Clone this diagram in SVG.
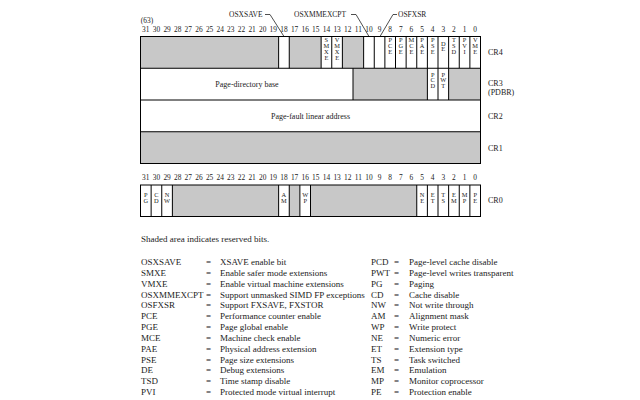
<svg xmlns="http://www.w3.org/2000/svg" width="640" height="400" viewBox="0 0 640 400">
<style>
  text { font-family: "Liberation Serif", "Times New Roman", serif; fill: #222; }
  .num { font-size: 7.4px; text-anchor: middle; }
  .cl { font-size: 6.4px; text-anchor: middle; }
  .lbl { font-size: 7.5px; }
  .reg { font-size: 8px; }
  .mid { font-size: 8px; text-anchor: middle; }
  .leg { font-size: 9px; }
  .gray { fill: #c8c8c8; stroke: none; }
  .box { fill: none; stroke: #000; stroke-width: 1; }
  .sep { stroke: #000; stroke-width: 1; }
  .lead { fill: none; stroke: #222; stroke-width: 0.8; }
</style>

<!-- top bit numbers -->
<g id="bitnums-top" class="num">
  <text x="147" y="22.5">(63)</text>
  <text x="145.8" y="31.5">31</text><text x="156.4" y="31.5">30</text><text x="167.1" y="31.5">29</text><text x="177.7" y="31.5">28</text>
  <text x="188.3" y="31.5">27</text><text x="198.9" y="31.5">26</text><text x="209.6" y="31.5">25</text><text x="220.2" y="31.5">24</text>
  <text x="230.8" y="31.5">23</text><text x="241.4" y="31.5">22</text><text x="252.1" y="31.5">21</text><text x="262.7" y="31.5">20</text>
  <text x="273.3" y="31.5">19</text><text x="283.9" y="31.5">18</text><text x="294.6" y="31.5">17</text><text x="305.2" y="31.5">16</text>
  <text x="315.8" y="31.5">15</text><text x="326.4" y="31.5">14</text><text x="337.1" y="31.5">13</text><text x="347.7" y="31.5">12</text>
  <text x="358.3" y="31.5">11</text><text x="368.9" y="31.5">10</text><text x="379.6" y="31.5">9</text><text x="390.2" y="31.5">8</text>
  <text x="400.8" y="31.5">7</text><text x="411.4" y="31.5">6</text><text x="422.1" y="31.5">5</text><text x="432.7" y="31.5">4</text>
  <text x="443.3" y="31.5">3</text><text x="453.9" y="31.5">2</text><text x="464.6" y="31.5">1</text><text x="475.2" y="31.5">0</text>
</g>

<g id="field-labels" class="lbl">
  <text x="229" y="17">OSXSAVE</text>
  <text x="294" y="17">OSXMMEXCPT</text>
  <text x="398" y="17">OSFXSR</text>
</g>

<g id="connectors">
  <polyline class="lead" points="265,14.5 270,14.5 284,36.5"/>
  <polyline class="lead" points="351,14.5 356,14.5 369,36.5"/>
  <polyline class="lead" points="397,14.5 393,14.5 380,36.5"/>
</g>

<!-- CR4 -->
<g id="cr4">
  <rect class="gray" x="140.5" y="36.5" width="138.125" height="31.75"/>
  <rect class="gray" x="289.25" y="36.5" width="31.875" height="31.75"/>
  <rect class="gray" x="342.375" y="36.5" width="21.25" height="31.75"/>
  <g class="sep">
    <line x1="278.625" y1="36.5" x2="278.625" y2="68.25"/>
    <line x1="289.25" y1="36.5" x2="289.25" y2="68.25"/>
    <line x1="321.125" y1="36.5" x2="321.125" y2="68.25"/>
    <line x1="331.75" y1="36.5" x2="331.75" y2="68.25"/>
    <line x1="342.375" y1="36.5" x2="342.375" y2="68.25"/>
    <line x1="363.625" y1="36.5" x2="363.625" y2="68.25"/>
    <line x1="374.25" y1="36.5" x2="374.25" y2="68.25"/>
    <line x1="384.875" y1="36.5" x2="384.875" y2="68.25"/>
    <line x1="395.5" y1="36.5" x2="395.5" y2="68.25"/>
    <line x1="406.125" y1="36.5" x2="406.125" y2="68.25"/>
    <line x1="416.75" y1="36.5" x2="416.75" y2="68.25"/>
    <line x1="427.375" y1="36.5" x2="427.375" y2="68.25"/>
    <line x1="438" y1="36.5" x2="438" y2="68.25"/>
    <line x1="448.625" y1="36.5" x2="448.625" y2="68.25"/>
    <line x1="459.25" y1="36.5" x2="459.25" y2="68.25"/>
    <line x1="469.875" y1="36.5" x2="469.875" y2="68.25"/>
  </g>
  <g class="cl">
    <text y="42"><tspan x="326.4">S</tspan><tspan x="326.4" dy="5.9">M</tspan><tspan x="326.4" dy="5.9">X</tspan><tspan x="326.4" dy="5.9">E</tspan></text>
    <text y="42"><tspan x="337.1">V</tspan><tspan x="337.1" dy="5.9">M</tspan><tspan x="337.1" dy="5.9">X</tspan><tspan x="337.1" dy="5.9">E</tspan></text>
    <text y="42"><tspan x="390.2">P</tspan><tspan x="390.2" dy="5.9">C</tspan><tspan x="390.2" dy="5.9">E</tspan></text>
    <text y="42"><tspan x="400.8">P</tspan><tspan x="400.8" dy="5.9">G</tspan><tspan x="400.8" dy="5.9">E</tspan></text>
    <text y="42"><tspan x="411.4">M</tspan><tspan x="411.4" dy="5.9">C</tspan><tspan x="411.4" dy="5.9">E</tspan></text>
    <text y="42"><tspan x="422.1">P</tspan><tspan x="422.1" dy="5.9">A</tspan><tspan x="422.1" dy="5.9">E</tspan></text>
    <text y="42"><tspan x="432.7">P</tspan><tspan x="432.7" dy="5.9">S</tspan><tspan x="432.7" dy="5.9">E</tspan></text>
    <text y="45.5"><tspan x="443.3">D</tspan><tspan x="443.3" dy="5.9">E</tspan></text>
    <text y="42"><tspan x="453.9">T</tspan><tspan x="453.9" dy="5.9">S</tspan><tspan x="453.9" dy="5.9">D</tspan></text>
    <text y="42"><tspan x="464.6">P</tspan><tspan x="464.6" dy="5.9">V</tspan><tspan x="464.6" dy="5.9">I</tspan></text>
    <text y="42"><tspan x="475.2">V</tspan><tspan x="475.2" dy="5.9">M</tspan><tspan x="475.2" dy="5.9">E</tspan></text>
  </g>
  <text class="reg" x="488" y="55">CR4</text>
</g>

<!-- CR3 -->
<g id="cr3">
  <rect class="gray" x="353" y="68.25" width="74.375" height="31.75"/>
  <rect class="gray" x="448.625" y="68.25" width="31.875" height="31.75"/>
  <g class="sep">
    <line x1="353" y1="68.25" x2="353" y2="100"/>
    <line x1="427.375" y1="68.25" x2="427.375" y2="100"/>
    <line x1="438" y1="68.25" x2="438" y2="100"/>
    <line x1="448.625" y1="68.25" x2="448.625" y2="100"/>
  </g>
  <text class="mid" x="247" y="87">Page-directory base</text>
  <g class="cl">
    <text y="76.5"><tspan x="432.7">P</tspan><tspan x="432.7" dy="5.9">C</tspan><tspan x="432.7" dy="5.9">D</tspan></text>
    <text y="76.5"><tspan x="443.3">P</tspan><tspan x="443.3" dy="5.9">W</tspan><tspan x="443.3" dy="5.9">T</tspan></text>
  </g>
  <text class="reg" x="488" y="86">CR3</text>
  <text class="reg" x="488" y="95">(PDBR)</text>
</g>

<!-- CR2 -->
<g id="cr2">
  <text class="mid" x="310.5" y="118.5">Page-fault linear address</text>
  <text class="reg" x="488" y="118.5">CR2</text>
</g>

<!-- CR1 -->
<g id="cr1">
  <rect class="gray" x="140.5" y="131.75" width="340" height="31.75"/>
  <text class="reg" x="488" y="150.5">CR1</text>
</g>

<!-- outlines of CR4..CR1 -->
<g id="stack-outline">
  <rect class="box" x="140.5" y="36.5" width="340" height="127"/>
  <line class="sep" x1="140.5" y1="68.25" x2="480.5" y2="68.25"/>
  <line class="sep" x1="140.5" y1="100" x2="480.5" y2="100"/>
  <line class="sep" x1="140.5" y1="131.75" x2="480.5" y2="131.75"/>
</g>

<!-- bottom bit numbers -->
<g id="bitnums-bottom" class="num">
  <text x="145.8" y="179.5">31</text><text x="156.4" y="179.5">30</text><text x="167.1" y="179.5">29</text><text x="177.7" y="179.5">28</text>
  <text x="188.3" y="179.5">27</text><text x="198.9" y="179.5">26</text><text x="209.6" y="179.5">25</text><text x="220.2" y="179.5">24</text>
  <text x="230.8" y="179.5">23</text><text x="241.4" y="179.5">22</text><text x="252.1" y="179.5">21</text><text x="262.7" y="179.5">20</text>
  <text x="273.3" y="179.5">19</text><text x="283.9" y="179.5">18</text><text x="294.6" y="179.5">17</text><text x="305.2" y="179.5">16</text>
  <text x="315.8" y="179.5">15</text><text x="326.4" y="179.5">14</text><text x="337.1" y="179.5">13</text><text x="347.7" y="179.5">12</text>
  <text x="358.3" y="179.5">11</text><text x="368.9" y="179.5">10</text><text x="379.6" y="179.5">9</text><text x="390.2" y="179.5">8</text>
  <text x="400.8" y="179.5">7</text><text x="411.4" y="179.5">6</text><text x="422.1" y="179.5">5</text><text x="432.7" y="179.5">4</text>
  <text x="443.3" y="179.5">3</text><text x="453.9" y="179.5">2</text><text x="464.6" y="179.5">1</text><text x="475.2" y="179.5">0</text>
</g>

<!-- CR0 -->
<g id="cr0">
  <rect class="gray" x="172.375" y="185" width="106.25" height="31.5"/>
  <rect class="gray" x="289.25" y="185" width="10.625" height="31.5"/>
  <rect class="gray" x="310.5" y="185" width="106.25" height="31.5"/>
  <rect class="box" x="140.5" y="185" width="340" height="31.5"/>
  <g class="sep">
    <line x1="151.125" y1="185" x2="151.125" y2="216.5"/>
    <line x1="161.75" y1="185" x2="161.75" y2="216.5"/>
    <line x1="172.375" y1="185" x2="172.375" y2="216.5"/>
    <line x1="278.625" y1="185" x2="278.625" y2="216.5"/>
    <line x1="289.25" y1="185" x2="289.25" y2="216.5"/>
    <line x1="299.875" y1="185" x2="299.875" y2="216.5"/>
    <line x1="310.5" y1="185" x2="310.5" y2="216.5"/>
    <line x1="416.75" y1="185" x2="416.75" y2="216.5"/>
    <line x1="427.375" y1="185" x2="427.375" y2="216.5"/>
    <line x1="438" y1="185" x2="438" y2="216.5"/>
    <line x1="448.625" y1="185" x2="448.625" y2="216.5"/>
    <line x1="459.25" y1="185" x2="459.25" y2="216.5"/>
    <line x1="469.875" y1="185" x2="469.875" y2="216.5"/>
  </g>
  <g class="cl">
    <text y="197"><tspan x="145.8">P</tspan><tspan x="145.8" dy="5.9">G</tspan></text>
    <text y="197"><tspan x="156.4">C</tspan><tspan x="156.4" dy="5.9">D</tspan></text>
    <text y="197"><tspan x="167.1">N</tspan><tspan x="167.1" dy="5.9">W</tspan></text>
    <text y="197"><tspan x="283.9">A</tspan><tspan x="283.9" dy="5.9">M</tspan></text>
    <text y="197"><tspan x="305.2">W</tspan><tspan x="305.2" dy="5.9">P</tspan></text>
    <text y="197"><tspan x="422.1">N</tspan><tspan x="422.1" dy="5.9">E</tspan></text>
    <text y="197"><tspan x="432.7">E</tspan><tspan x="432.7" dy="5.9">T</tspan></text>
    <text y="197"><tspan x="443.3">T</tspan><tspan x="443.3" dy="5.9">S</tspan></text>
    <text y="197"><tspan x="453.9">E</tspan><tspan x="453.9" dy="5.9">M</tspan></text>
    <text y="197"><tspan x="464.6">M</tspan><tspan x="464.6" dy="5.9">P</tspan></text>
    <text y="197"><tspan x="475.2">P</tspan><tspan x="475.2" dy="5.9">E</tspan></text>
  </g>
  <text class="reg" x="488" y="203">CR0</text>
</g>

<!-- legend -->
<g id="legend" class="leg">
  <text x="141" y="242">Shaded area indicates reserved bits.</text>
  <g id="legend-left">
    <text x="141" y="265">OSXSAVE</text><text x="206" y="265">=</text><text x="220" y="265">XSAVE enable bit</text>
    <text x="141" y="275.8">SMXE</text><text x="206" y="275.8">=</text><text x="220" y="275.8">Enable safer mode extensions</text>
    <text x="141" y="286.7">VMXE</text><text x="206" y="286.7">=</text><text x="220" y="286.7">Enable virtual machine extensions</text>
    <text x="141" y="297.5">OSXMMEXCPT</text><text x="206" y="297.5">=</text><text x="220" y="297.5">Support unmasked SIMD FP exceptions</text>
    <text x="141" y="308.3">OSFXSR</text><text x="206" y="308.3">=</text><text x="220" y="308.3">Support FXSAVE, FXSTOR</text>
    <text x="141" y="319.2">PCE</text><text x="206" y="319.2">=</text><text x="220" y="319.2">Performance counter enable</text>
    <text x="141" y="330">PGE</text><text x="206" y="330">=</text><text x="220" y="330">Page global enable</text>
    <text x="141" y="340.8">MCE</text><text x="206" y="340.8">=</text><text x="220" y="340.8">Machine check enable</text>
    <text x="141" y="351.6">PAE</text><text x="206" y="351.6">=</text><text x="220" y="351.6">Physical address extension</text>
    <text x="141" y="362.5">PSE</text><text x="206" y="362.5">=</text><text x="220" y="362.5">Page size extensions</text>
    <text x="141" y="373.3">DE</text><text x="206" y="373.3">=</text><text x="220" y="373.3">Debug extensions</text>
    <text x="141" y="384.1">TSD</text><text x="206" y="384.1">=</text><text x="220" y="384.1">Time stamp disable</text>
    <text x="141" y="395">PVI</text><text x="206" y="395">=</text><text x="220" y="395">Protected mode virtual interrupt</text>
  </g>
  <g id="legend-right">
    <text x="371" y="265">PCD</text><text x="394" y="265">=</text><text x="409" y="265">Page-level cache disable</text>
    <text x="371" y="275.8">PWT</text><text x="394" y="275.8">=</text><text x="409" y="275.8">Page-level writes transparent</text>
    <text x="371" y="286.7">PG</text><text x="394" y="286.7">=</text><text x="409" y="286.7">Paging</text>
    <text x="371" y="297.5">CD</text><text x="394" y="297.5">=</text><text x="409" y="297.5">Cache disable</text>
    <text x="371" y="308.3">NW</text><text x="394" y="308.3">=</text><text x="409" y="308.3">Not write through</text>
    <text x="371" y="319.2">AM</text><text x="394" y="319.2">=</text><text x="409" y="319.2">Alignment mask</text>
    <text x="371" y="330">WP</text><text x="394" y="330">=</text><text x="409" y="330">Write protect</text>
    <text x="371" y="340.8">NE</text><text x="394" y="340.8">=</text><text x="409" y="340.8">Numeric error</text>
    <text x="371" y="351.6">ET</text><text x="394" y="351.6">=</text><text x="409" y="351.6">Extension type</text>
    <text x="371" y="362.5">TS</text><text x="394" y="362.5">=</text><text x="409" y="362.5">Task switched</text>
    <text x="371" y="373.3">EM</text><text x="394" y="373.3">=</text><text x="409" y="373.3">Emulation</text>
    <text x="371" y="384.1">MP</text><text x="394" y="384.1">=</text><text x="409" y="384.1">Monitor coprocessor</text>
    <text x="371" y="395">PE</text><text x="394" y="395">=</text><text x="409" y="395">Protection enable</text>
  </g>
</g>
</svg>
